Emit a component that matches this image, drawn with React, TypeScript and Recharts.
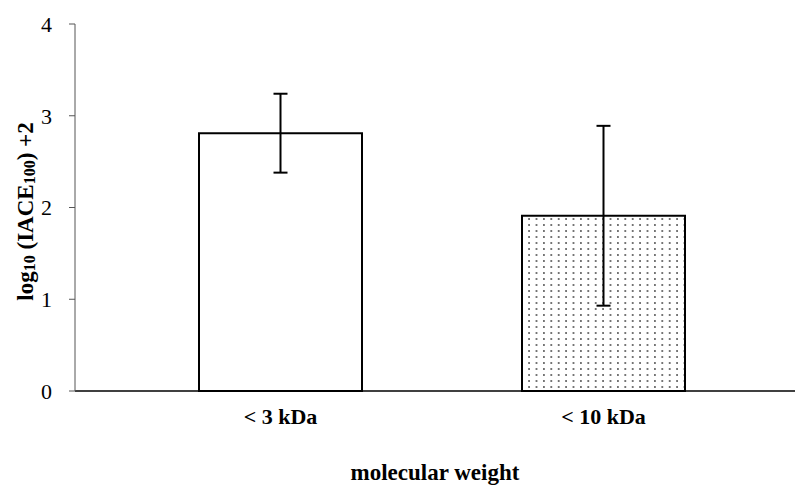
import { BarChart, Bar, XAxis, YAxis, Cell, ErrorBar, Label } from "recharts";

const categories = ["< 3 kDa", "< 10 kDa"];
const means = [2.81, 1.91];
const errors = [0.43, 0.98];
const yTicks = [0, 1, 2, 3, 4];
const fills = ["#ffffff", "url(#dots)"];

const data = categories.map((c, i) => ({ name: c, value: means[i], err: errors[i] }));

const FONT = "'Liberation Serif', 'Times New Roman', serif";

function YLabel(props: any) {
    const vb = props.viewBox || { y: 24, height: 367 };
    const cy = vb.y + vb.height / 2 + 4;
    return (
        <text
            x={0}
            y={0}
            transform={`translate(33, ${cy}) rotate(-90)`}
            textAnchor="middle"
            fontFamily={FONT}
            fontWeight="bold"
            fontSize={23}
            fill="#000"
        >
            log
            <tspan fontSize={16} dy={2}>10</tspan>
            <tspan dy={-2}> (IACE</tspan>
            <tspan fontSize={16} dy={2}>100</tspan>
            <tspan dy={-2}>) +2</tspan>
        </text>
    );
}

export default function App() {
    return (
        <div style={{ position: "absolute", left: 0, top: 0, width: 795, height: 487, background: "#fff" }}>
            <BarChart
                width={795}
                height={487}
                data={data}
                margin={{ top: 24, right: 0, bottom: 0, left: 0 }}
                barSize={163}
            >
                <defs>
                    <pattern id="dots" width={7.4} height={6} patternUnits="userSpaceOnUse">
                        <rect width={7.4} height={6} fill="#fff" />
                        <circle cx={3.7} cy={3} r={0.9} fill="#444" />
                    </pattern>
                </defs>
                <XAxis
                    dataKey="name"
                    height={96}
                    padding={{ left: 44, right: 30 }}
                    tickLine={false}
                    tickSize={6}
                    tickMargin={11}
                    axisLine={{ stroke: "#000", strokeWidth: 1.5 }}
                    tick={{ fontFamily: FONT, fontWeight: "bold", fontSize: 22, fill: "#000" }}
                >
                    <Label
                        value="molecular weight"
                        position="insideBottom"
                        offset={7}
                        style={{ fontFamily: FONT, fontWeight: "bold", fontSize: 23, fill: "#000" }}
                    />
                </XAxis>
                <YAxis
                    width={75}
                    domain={[0, 4]}
                    ticks={yTicks}
                    interval={0}
                    tickSize={6}
                    tickMargin={17}
                    axisLine={{ stroke: "#555", strokeWidth: 1 }}
                    tickLine={{ stroke: "#555", strokeWidth: 1 }}
                    tick={{ fontFamily: FONT, fontSize: 22, fill: "#000" }}
                    label={<YLabel />}
                />
                <Bar dataKey="value" stroke="#000" strokeWidth={2} isAnimationActive={false}>
                    {data.map((_, i) => (
                        <Cell key={i} fill={fills[i]} />
                    ))}
                    <ErrorBar dataKey="err" width={7} stroke="#000" strokeWidth={2} direction="y" />
                </Bar>
            </BarChart>
        </div>
    );
}
